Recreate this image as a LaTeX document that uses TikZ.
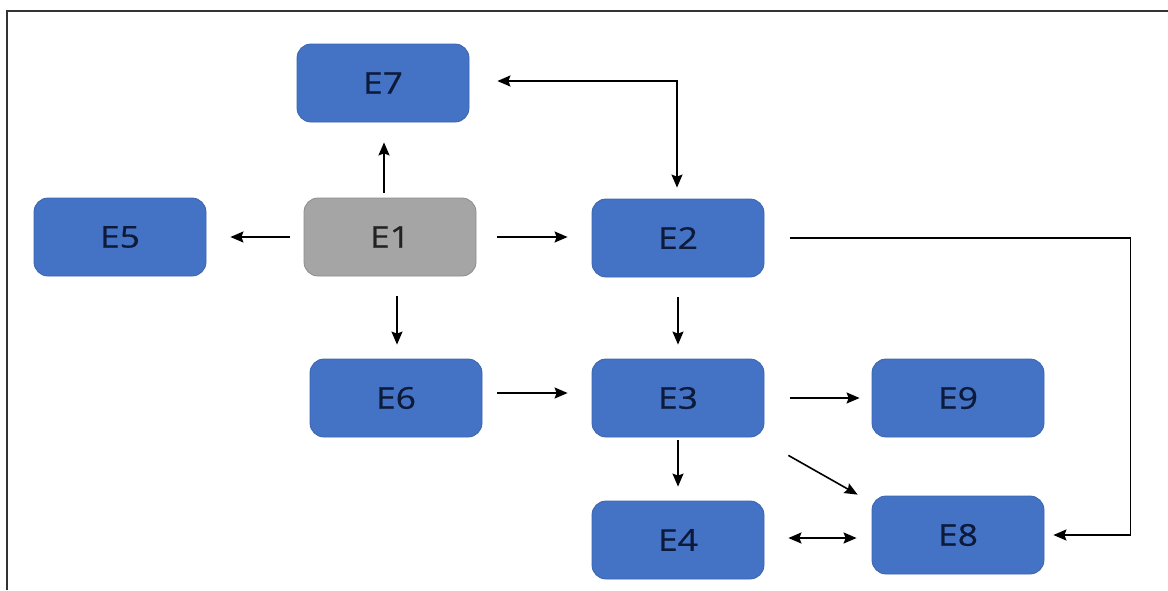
\documentclass[tikz,border=0pt]{standalone}
\usepackage{fontspec}
\newfontfamily\labfont[FakeStretch=1.18,FakeBold=0.6]{Open Sans}
\usetikzlibrary{arrows.meta,calc}
\definecolor{boxblue}{HTML}{4472C4}
\definecolor{boxedge}{HTML}{3B64AE}
\definecolor{boxgray}{HTML}{A5A5A5}
\definecolor{grayedge}{HTML}{8C8C8C}
\definecolor{navytext}{HTML}{0D1A3A}
\definecolor{graytext}{HTML}{222222}
\definecolor{framecol}{HTML}{333333}
\tikzset{
  entbox/.style={rectangle, rounded corners=14pt, minimum width=172pt, minimum height=78pt,
    inner sep=0pt, fill=boxblue, draw=boxedge, line width=0.8pt,
    font=\labfont\fontsize{30}{32}\selectfont, text=navytext},
  graybox/.style={entbox, fill=boxgray, draw=grayedge, text=graytext},
  arr/.style={draw=black, line width=1.6pt, -{Stealth[length=13pt,width=11pt,inset=2pt]}},
  darr/.style={arr, {Stealth[length=13pt,width=11pt,inset=2pt]}-{Stealth[length=13pt,width=11pt,inset=2pt]}},
  framestyle/.style={draw=framecol, line width=2pt}
}
\begin{document}
\begin{tikzpicture}[x=1pt,y=-1pt]
\useasboundingbox (0,0) rectangle (1168,590);
\draw[framestyle] (7,590) -- (7,11) -- (1168,11);

\node[entbox]  (E7) at (383,83)  {E7};
\node[entbox]  (E5) at (120,237) {E5};
\node[graybox] (E1) at (390,237) {E1};
\node[entbox]  (E2) at (678,238) {E2};
\node[entbox]  (E6) at (396,398) {E6};
\node[entbox]  (E3) at (678,398) {E3};
\node[entbox]  (E9) at (958,398) {E9};
\node[entbox]  (E4) at (678,540) {E4};
\node[entbox]  (E8) at (958,535) {E8};

% E1 -> E7
\draw[arr, shorten <=5pt, shorten >=20pt] ([xshift=-6pt]E1.north) -- ([xshift=-6pt]E1.north |- E7.south);
% E1 -> E5
\draw[arr, shorten <=14pt, shorten >=24pt] (E1.west) -- (E5.east);
% E1 -> E2
\draw[arr, shorten <=21pt, shorten >=24pt] (E1.east) -- (E1.east -| E2.west);
% E1 -> E6
\draw[arr, shorten <=20pt, shorten >=14pt] ([xshift=7pt]E1.south) -- ([xshift=7pt]E1.south |- E6.north);
% E2 <-> E7
\draw[darr, shorten <=11pt, shorten >=28pt] ([xshift=-1pt]E2.north) |- ([yshift=2pt]E7.east);
% E2 -> E3
\draw[arr, shorten <=20pt, shorten >=14pt] (E2.south) -- (E3.north);
% E6 -> E3
\draw[arr, shorten <=15pt, shorten >=24pt] ([yshift=5pt]E6.east) -- ([yshift=5pt]E6.east -| E3.west);
% E3 -> E9
\draw[arr, shorten <=26pt, shorten >=12pt] (E3.east) -- (E9.west);
% E3 -> E4
\draw[arr, shorten <=3pt, shorten >=14pt] (E3.south) -- (E4.north);
% E3 -> E8
\draw[arr] ($(E3.south east)+(24,18)$) -- ($(E8.north west)+(-14,-1)$);
% E4 <-> E8
\draw[darr, shorten <=24pt, shorten >=15pt] ([yshift=2pt]E4.east) -- ([yshift=2pt]E4.east -| E8.west);
% E2 -> E8
\draw[arr, shorten >=9pt] ([xshift=26pt]E2.east) -- ++(340,0) |- (E8.east);
\end{tikzpicture}
\end{document}
